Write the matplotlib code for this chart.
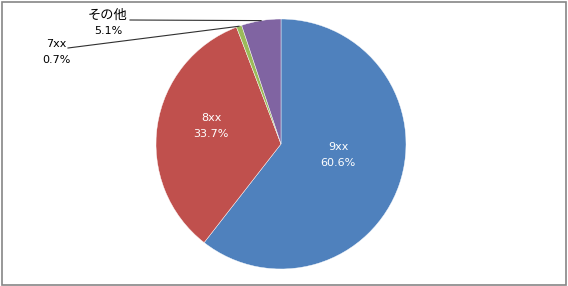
import numpy as np
import matplotlib
matplotlib.use("Agg")
import matplotlib.pyplot as plt
from matplotlib.patches import Rectangle

plt.rcParams['font.family'] = ['DejaVu Sans', 'Noto Sans CJK JP']

categories = ["9xx", "8xx", "7xx", "その他"]
shares = [60.6, 33.7, 0.7, 5.1]
pct_labels = ["60.6%", "33.7%", "0.7%", "5.1%"]
colors = ["#4F81BD", "#C0504D", "#9BBB59", "#8064A2"]

W, H = 568, 286
fig = plt.figure(figsize=(W / 100, H / 100), dpi=100)
ax = fig.add_axes([0, 0, 1, 1])
ax.set_xlim(0, W)
ax.set_ylim(0, H)
ax.set_aspect('equal')
ax.axis('off')

cx, cy, R = 281, H - 144, 125
wedges, _ = ax.pie(shares, colors=colors, startangle=90, counterclock=False,
                   center=(cx, cy), radius=R,
                   wedgeprops=dict(edgecolor='white', linewidth=0.3))
ax.set_xlim(0, W)
ax.set_ylim(0, H)

fs = 8
def label(x, y, i, color):
    cfs = 9.5 if any(ord(c) > 0x3000 for c in categories[i]) else fs
    ax.text(x, y + 8, categories[i], color=color, ha='center', va='center', fontsize=cfs)
    ax.text(x, y - 8, pct_labels[i], color=color, ha='center', va='center', fontsize=fs)

# inside labels
inside = {0: (338, H - 155), 1: (211, H - 126)}
for i, (x, y) in inside.items():
    label(x, y, i, 'white')

# outside labels with leader lines
outside = {3: ((108, H - 23), (130, H - 20)), 2: ((56, H - 52), (68, H - 48))}
for i, ((tx, ty), (lx, ly)) in outside.items():
    w = wedges[i]
    mid = np.deg2rad((w.theta1 + w.theta2) / 2)
    ex, ey = cx + R * np.cos(mid), cy + R * np.sin(mid)
    ax.plot([lx, ex], [ly, ey], color='#303030', lw=0.8)
    label(tx, ty, i, 'black')

fig.patches.append(Rectangle((1.5 / W, 1.5 / H), (W - 3.5) / W, (H - 3.5) / H,
                             transform=fig.transFigure, fill=False,
                             edgecolor='#868686', linewidth=1.2))

fig.savefig("out.png", dpi=100)
